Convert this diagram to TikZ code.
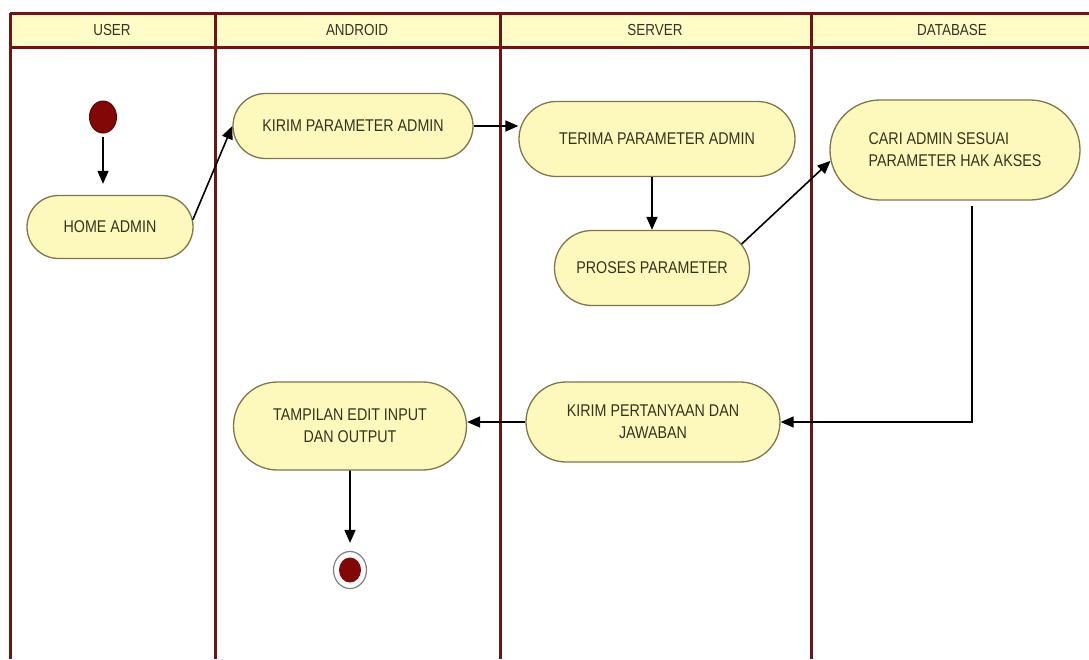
\documentclass[tikz,border=0pt]{standalone}
\usepackage{fontspec}
\newfontfamily\umlfont[FakeStretch=0.84]{Liberation Sans}
\usetikzlibrary{shapes.geometric, shapes.misc, arrows.meta}
\definecolor{lane}{RGB}{110,22,22}
\definecolor{actfill}{RGB}{253,249,188}
\definecolor{actdraw}{RGB}{128,118,78}
\definecolor{acttext}{RGB}{52,52,30}
\definecolor{headfill}{RGB}{255,252,200}
\definecolor{dot}{RGB}{130,8,8}
\tikzstyle{activity} = [rounded rectangle, inner xsep=-20pt, inner ysep=0pt, align=center, draw=actdraw, line width=1.3pt, fill=actfill, text=acttext, font=\umlfont\fontsize{17}{22}\selectfont]
\tikzstyle{lanehead} = [text=acttext, font=\umlfont\fontsize{16}{20}\selectfont]
\tikzstyle{startdot} = [ellipse, minimum width=27pt, minimum height=32pt, inner sep=0pt, fill=dot, draw=dot!70!black, line width=1pt]
\tikzstyle{endring} = [ellipse, minimum width=33pt, minimum height=37pt, inner sep=0pt, fill=white, draw=gray, line width=1.2pt]
\tikzstyle{enddot} = [ellipse, minimum width=22pt, minimum height=25pt, inner sep=0pt, fill=dot]
\tikzstyle{arrow} = [line width=1.6pt, -{Triangle[length=13pt,width=11pt]}]
\tikzstyle{swim} = [line width=3pt, lane]

\begin{document}
\begin{tikzpicture}[x=1pt, y=-1pt]
   \useasboundingbox (0,0) rectangle (1089,659);
   \fill [headfill] (10,13) rectangle (1089,47);
   \draw [swim] (10,13) -- (1089,13);
   \draw [swim] (10,47) -- (1089,47);
   \foreach \x in {10,215,500,811} \draw [swim] (\x,13) -- (\x,659);
   \node (user) [lanehead] at (112,30) {USER};
   \node (android) [lanehead] at (357,30) {ANDROID};
   \node (server) [lanehead] at (655,30) {SERVER};
   \node (database) [lanehead] at (952,30) {DATABASE};
   \node (start) [startdot] at (103,117) {};
   \node (home) [activity, minimum width=126pt, minimum height=63pt] at (110,227) {HOME ADMIN};
   \node (kirimparam) [activity, minimum width=200pt, minimum height=65pt] at (353,126) {KIRIM PARAMETER ADMIN};
   \node (terima) [activity, minimum width=236pt, minimum height=75pt] at (657,139) {TERIMA PARAMETER ADMIN};
   \node (proses) [activity, minimum width=155pt, minimum height=75pt] at (652,268) {PROSES PARAMETER};
   \node (cari) [activity, minimum width=210pt, minimum height=100pt, align=left] at (955,150) {CARI ADMIN SESUAI\\PARAMETER HAK AKSES};
   \node (kirimjawab) [activity, minimum width=214pt, minimum height=80pt] at (653,422) {KIRIM PERTANYAAN DAN\\JAWABAN};
   \node (tampilan) [activity, minimum width=193pt, minimum height=88pt] at (350,426) {TAMPILAN EDIT INPUT\\DAN OUTPUT};
   \node (stop) [endring] at (350,570) {};
   \node (stopdot) [enddot] at (stop) {};
   \draw [arrow, shorten <=3pt, shorten >=11pt] (start) -- (start |- home.north);
   \draw [arrow] (home.5) -- (kirimparam.west);
   \draw [arrow] (kirimparam.east) -- (kirimparam.east -| terima.west);
   \draw [arrow] (terima.south -| proses) -- (proses.north);
   \draw [arrow] (proses.15) -- (cari.185);
   \draw [arrow] ([xshift=17pt, yshift=-5pt]cari.south) |- (kirimjawab);
   \draw [arrow] (kirimjawab.west) -- (kirimjawab.west -| tampilan.east);
   \draw [arrow, shorten >=8pt] (tampilan) -- (stop);
\end{tikzpicture}
\end{document}
